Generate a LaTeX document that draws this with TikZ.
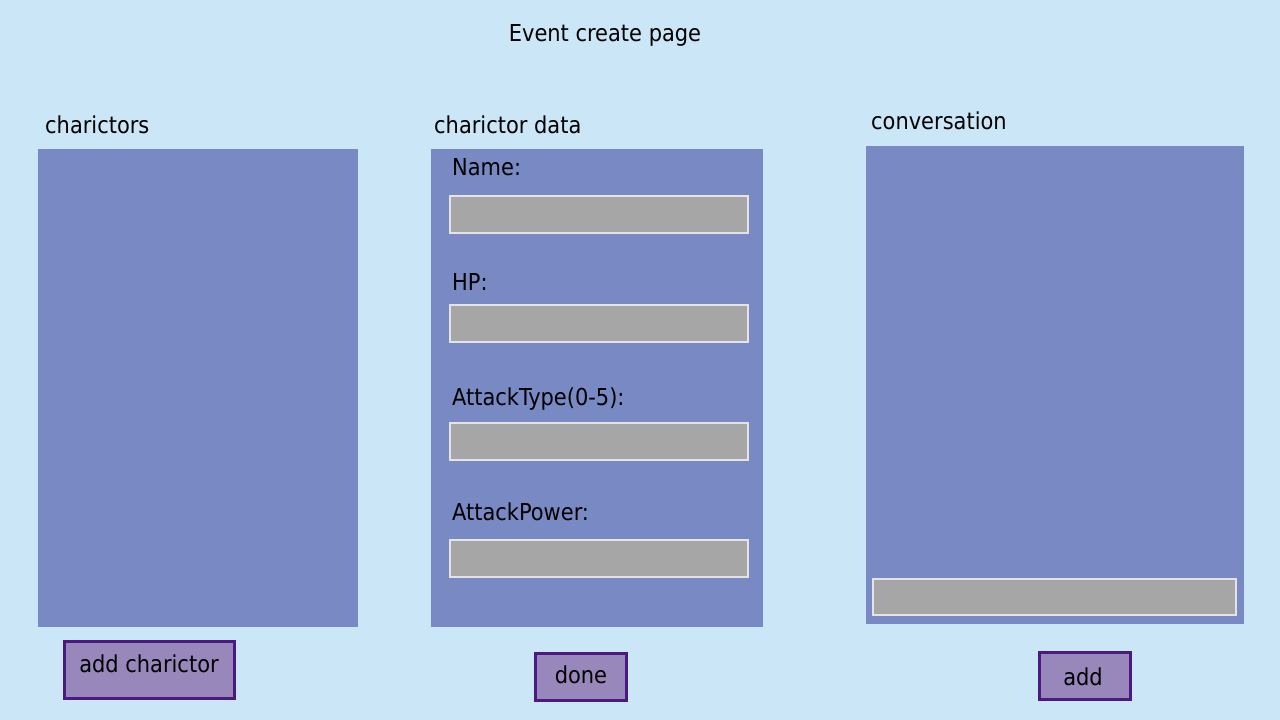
\documentclass[tikz,border=0pt]{standalone}
\usepackage{fontspec}
\setmainfont{DejaVu Sans Condensed}
\definecolor{bgc}{HTML}{CAE6F7}
\definecolor{panelc}{HTML}{7889C4}
\definecolor{fieldc}{HTML}{A6A6A6}
\definecolor{fieldline}{HTML}{E4E4E4}
\definecolor{btnc}{HTML}{9787BB}
\definecolor{btnline}{HTML}{4A1A80}
\begin{document}
\begin{tikzpicture}[x=1pt,y=-1pt,
  panel/.style={fill=panelc,draw=none,inner sep=0pt},
  field/.style={fill=fieldc,draw=fieldline,line width=2pt,inner sep=0pt},
  btn/.style={fill=btnc,draw=btnline,line width=2.2pt,inner sep=0pt},
  lbl/.style={inner sep=0pt,anchor=base west,font=\fontsize{23.3}{28}\selectfont},
  btxt/.style={inner sep=0pt,anchor=base,font=\fontsize{23.3}{28}\selectfont}]
\fill[bgc] (0,0) rectangle (1280,720);
\useasboundingbox (0,0) rectangle (1280,720);
\node[btxt] (title) at (605,41) {Event create page};
% panel 1
\node[lbl] (l1) at (45,133) {charictors};
\node[panel,minimum width=320pt,minimum height=478pt] (p1) at (198,388) {};
% panel 2
\node[lbl] (l2) at (434,133) {charictor data};
\node[panel,minimum width=332pt,minimum height=478pt] (p2) at (597,388) {};
\node[lbl] (n1) at (452,175) {Name:};
\node[field,minimum width=298pt,minimum height=37pt] (f1) at (599,214) {};
\node[lbl] (n2) at (452,290) {HP:};
\node[field,minimum width=298pt,minimum height=37pt] (f2) at (599,323) {};
\node[lbl] (n3) at (452,405) {AttackType(0-5):};
\node[field,minimum width=298pt,minimum height=37pt] (f3) at (599,441) {};
\node[lbl] (n4) at (452,520) {AttackPower:};
\node[field,minimum width=298pt,minimum height=37pt] (f4) at (599,558) {};
% panel 3
\node[lbl] (l3) at (871,129) {conversation};
\node[panel,minimum width=378pt,minimum height=478pt] (p3) at (1055,385) {};
\node[field,minimum width=363pt,minimum height=36pt] (f5) at (1054.5,596.5) {};
% buttons
\node[btn,minimum width=170pt,minimum height=57pt] (b1) at (149.5,670) {};
\node[btxt] (b1t) at (149,672) {add charictor};
\node[btn,minimum width=91pt,minimum height=47pt] (b2) at (581,677) {};
\node[btxt] (b2t) at (581,683) {done};
\node[btn,minimum width=91pt,minimum height=47pt] (b3) at (1085,676) {};
\node[btxt] (b3t) at (1083,685) {add};
\end{tikzpicture}
\end{document}
